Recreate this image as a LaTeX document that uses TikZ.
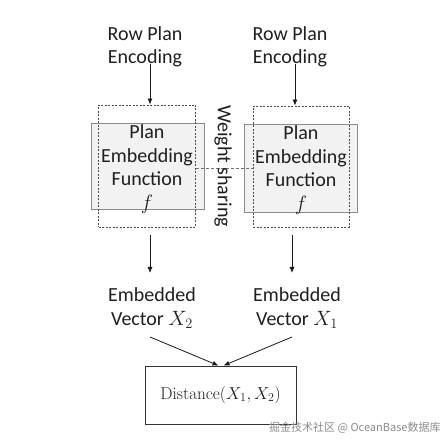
\documentclass[tikz,border=0pt]{standalone}
\usepackage[no-math]{fontspec}
\setmainfont{Carlito}
\newfontfamily\cjkfont{Noto Sans CJK SC}
\usetikzlibrary{arrows.meta}

\tikzset{every picture/.style={line width=0.9pt}}
\tikzset{
  txt/.style={align=center, inner sep=0.75pt, text=black!88, font=\fontsize{20}{23.5}\selectfont},
  graybox/.style={draw=black!45, fill=black!5, line width=0.8pt},
  dashbox/.style={draw=black!70, dash pattern=on 2pt off 1.5pt, line width=0.8pt},
  arr/.style={draw=black!90, line width=0.8pt, -{Latex[length=6pt,width=5pt]}}
}

\begin{document}
\begin{tikzpicture}[x=1pt,y=-1pt]
\useasboundingbox (0,0) rectangle (448,446);

%Shape: Rectangle
\node [graybox, minimum width=113, minimum height=86] (emb1) at (147.5,166) {};
%Shape: Rectangle
\node [dashbox, minimum width=97, minimum height=122] (dash1) at (147,166) {};
%Shape: Rectangle
\node [graybox, minimum width=113, minimum height=88] (emb2) at (300.5,168) {};
%Shape: Rectangle
\node [dashbox, minimum width=96, minimum height=121] (dash2) at (301,166.5) {};

% Text Node
\node [txt] (fun1) at (147,169) {Plan\\Embedding\\Function\\$f$};
% Text Node
\node [txt] (fun2) at (301,170) {Plan\\Embedding\\Function\\$f$};
% Text Node
\node [txt] (enc1) at (145,47) {Row Plan\\Encoding};
% Text Node
\node [txt] (enc2) at (290,47) {Row Plan\\Encoding};
% Text Node
\node [txt] (vec2) at (152,308) {Embedded\\Vector $X_2$};
% Text Node
\node [txt] (vec1) at (297,308) {Embedded\\Vector $X_1$};
%Shape: Rectangle
\node [draw=black!80, line width=0.8pt, minimum width=151, minimum height=58, inner sep=0pt,
       text=black!88, font=\fontsize{18}{22}\selectfont] (dist) at (220.5,395) {$\mathrm{Distance}(X_1,X_2)$};

%Straight Lines
\draw [dash pattern=on 3pt off 2pt, draw=black!55, line width=0.8pt] (dash1.east |- 0,168) -- (dash2.west |- 0,168);
% Text Node
\node [txt, rotate=-90] (ws) at (223,166) {Weight sharing};

%Straight Lines
\coordinate (top1) at (150,64);
\coordinate (top2) at (295,64);
\draw [arr] (top1) -- (top1 |- dash1.north);
\draw [arr] (top2) -- (top2 |- dash2.north);
%Straight Lines
\coordinate (bot1) at (150,235);
\coordinate (bot2) at (292,235);
\draw [arr] (bot1) -- (150,273);
\draw [arr] (bot2) -- (292,273);
%Straight Lines
\coordinate (v2) at (150,337);
\coordinate (v1) at (292,337);
\draw [arr] (v2) -- ([xshift=-2pt]dist.north);
\draw [arr] (v1) -- ([xshift=3pt]dist.north);

% Text Node
\node [anchor=east, inner sep=0pt, text=black!45, font=\cjkfont\fontsize{11}{13}\selectfont] (mark) at (441,428) {掘金技术社区 @ OceanBase数据库};

\end{tikzpicture}
\end{document}
